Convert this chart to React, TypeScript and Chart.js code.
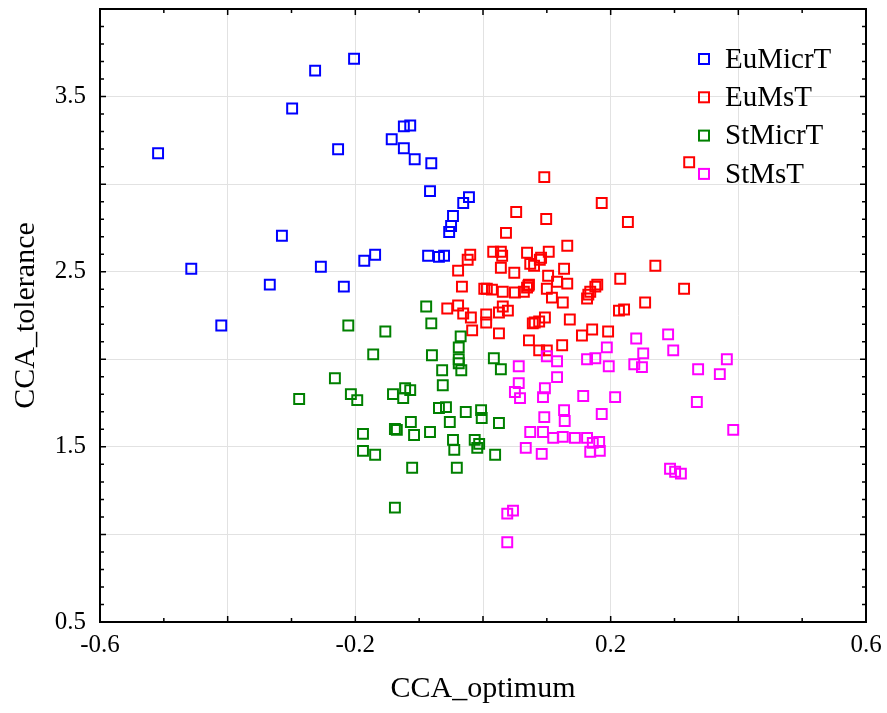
import React, { useEffect, useRef } from "react";
import { Chart, registerables } from "chart.js";

Chart.register(...registerables);

const seriesNames = ["EuMicrT", "EuMsT", "StMicrT", "StMsT"];
const seriesColors = ["#0000ff", "#ff0000", "#008000", "#ff00ff"];

const euMicrTX = [-0.509, -0.457, -0.41, -0.334, -0.315, -0.299, -0.263, -0.202, -0.227, -0.254, -0.218, -0.186, -0.169, -0.143, -0.124, -0.114, -0.124, -0.107, -0.081, -0.083, -0.031, -0.022, -0.047, -0.05, -0.053, -0.086, -0.069, -0.061];
const euMicrTY = [3.176, 2.517, 2.193, 2.426, 2.705, 3.432, 3.648, 3.716, 3.199, 2.528, 2.415, 2.563, 2.597, 3.256, 3.33, 3.335, 3.205, 3.142, 3.119, 2.96, 2.892, 2.926, 2.818, 2.761, 2.727, 2.591, 2.585, 2.591];

const euMsTX = [0.323, 0.096, 0.186, 0.052, 0.099, 0.227, 0.036, 0.132, 0.016, 0.028, 0.03, 0.069, 0.103, 0.091, 0.074, 0.08, 0.028, 0.049, 0.127, 0.27, 0.102, 0.116, 0.215, 0.132, 0.072, 0.002, 0.014, 0.031, 0.05, 0.064, 0.1, 0.176, 0.165, 0.163, 0.315, 0.108, 0.125, 0.254, 0.031, 0.039, 0.025, 0.005, 0.005, 0.213, 0.221, 0.097, 0.081, 0.078, 0.088, 0.136, 0.025, 0.171, 0.155, 0.196, 0.072, 0.088, 0.124, 0.1, -0.02, -0.024, 0.089, -0.039, -0.033, 0.006, -0.056, -0.039, -0.031, -0.019, -0.017, 0.071, 0.179, 0.168, 0.069];
const euMsTY = [3.125, 3.04, 2.892, 2.841, 2.801, 2.784, 2.722, 2.648, 2.614, 2.614, 2.591, 2.608, 2.614, 2.58, 2.545, 2.534, 2.523, 2.494, 2.517, 2.534, 2.477, 2.443, 2.46, 2.432, 2.426, 2.403, 2.398, 2.386, 2.381, 2.386, 2.403, 2.415, 2.369, 2.347, 2.403, 2.352, 2.324, 2.324, 2.301, 2.278, 2.267, 2.256, 2.21, 2.278, 2.284, 2.239, 2.21, 2.205, 2.216, 2.227, 2.148, 2.17, 2.136, 2.159, 2.108, 2.051, 2.08, 2.051, 2.597, 2.568, 2.568, 2.506, 2.415, 2.403, 2.29, 2.307, 2.261, 2.239, 2.165, 2.42, 2.426, 2.386, 2.409];

const stMicrTX = [-0.211, -0.153, -0.172, -0.232, -0.288, -0.207, -0.197, -0.141, -0.188, -0.188, -0.169, -0.138, -0.138, -0.089, -0.081, -0.035, -0.038, -0.08, -0.038, -0.038, -0.034, -0.064, 0.017, 0.028, -0.063, -0.122, -0.114, -0.125, -0.069, -0.058, -0.027, -0.003, -0.002, -0.052, 0.025, -0.113, -0.135, -0.108, -0.083, -0.047, -0.045, -0.013, -0.006, -0.009, 0.019, -0.111, -0.041];
const stMicrTY = [2.193, 2.159, 2.028, 1.892, 1.773, 1.801, 1.767, 1.801, 1.574, 1.477, 1.455, 1.602, 1.153, 2.301, 2.205, 2.131, 2.068, 2.023, 2.0, 1.977, 1.937, 1.937, 2.006, 1.943, 1.852, 1.835, 1.824, 1.778, 1.722, 1.727, 1.699, 1.71, 1.665, 1.642, 1.636, 1.642, 1.597, 1.568, 1.585, 1.54, 1.483, 1.54, 1.517, 1.494, 1.455, 1.381, 1.381];

const stMsTX = [0.056, 0.056, 0.05, 0.058, 0.1, 0.116, 0.116, 0.097, 0.094, 0.163, 0.176, 0.157, 0.127, 0.128, 0.096, 0.074, 0.094, 0.11, 0.125, 0.144, 0.163, 0.172, 0.168, 0.067, 0.092, 0.038, 0.047, 0.038, 0.24, 0.29, 0.298, 0.251, 0.237, 0.249, 0.194, 0.197, 0.337, 0.371, 0.382, 0.335, 0.392, 0.207, 0.186, 0.182, 0.183, 0.293, 0.301, 0.31];
const stMsTY = [1.96, 1.864, 1.813, 1.778, 2.017, 1.989, 1.898, 1.835, 1.784, 2.0, 2.006, 1.79, 1.71, 1.648, 1.67, 1.585, 1.585, 1.551, 1.557, 1.551, 1.551, 1.523, 1.472, 1.494, 1.46, 1.119, 1.136, 0.955, 2.119, 2.142, 2.051, 2.034, 1.972, 1.955, 2.068, 1.96, 1.943, 1.915, 2.0, 1.756, 1.597, 1.784, 1.688, 1.528, 1.477, 1.375, 1.358, 1.347];

const xTickLabels = ["-0.6", "-0.2", "0.2", "0.6"];
const yTickLabels = ["0.5", "1.5", "2.5", "3.5"];

const seriesX = [euMicrTX, euMsTX, stMicrTX, stMsTX];
const seriesY = [euMicrTY, euMsTY, stMicrTY, stMsTY];

const FONT = "'Liberation Serif', 'Times New Roman', serif";

const framePlugin = {
  id: "frameTicks",
  afterDraw(chart: any) {
    const { ctx, chartArea } = chart;
    const xs = chart.scales.x;
    const ys = chart.scales.y;
    const { left, right, top, bottom } = chartArea;
    ctx.save();
    ctx.strokeStyle = "#000";
    ctx.lineWidth = 1.5;
    ctx.beginPath();
    for (let i = -6; i <= 6; i++) {
      const v = i / 10;
      const px = xs.getPixelForValue(v);
      const len = i % 2 === 0 ? 6 : 4;
      ctx.moveTo(px, bottom);
      ctx.lineTo(px, bottom - len);
      ctx.moveTo(px, top);
      ctx.lineTo(px, top + len);
    }
    for (let i = 5; i <= 40; i++) {
      const v = i / 10;
      const py = ys.getPixelForValue(v);
      const len = i % 5 === 0 ? 6 : 4;
      ctx.moveTo(left, py);
      ctx.lineTo(left + len, py);
      ctx.moveTo(right, py);
      ctx.lineTo(right - len, py);
    }
    ctx.stroke();
    ctx.lineWidth = 2;
    ctx.strokeRect(left, top, right - left, bottom - top);

    // legend
    const lx = right - 162;
    const ly = top + 50;
    chart.data.datasets.forEach((ds: any, i: number) => {
      const cy = ly + i * 38.3;
      ctx.strokeStyle = ds.borderColor;
      ctx.lineWidth = 2;
      ctx.strokeRect(lx - 5, cy - 5, 10, 10);
      ctx.fillStyle = "#000";
      ctx.font = "29px " + FONT;
      ctx.textAlign = "left";
      ctx.textBaseline = "middle";
      ctx.fillText(ds.label, lx + 21, cy + 1);
    });
    ctx.restore();
  },
};

export default function App() {
  const ref = useRef<HTMLCanvasElement>(null);
  useEffect(() => {
    if (!ref.current) return;
    const datasets = seriesNames.map((name, i) => ({
      label: name,
      data: seriesX[i].map((x, j) => ({ x, y: seriesY[i][j] })),
      borderColor: seriesColors[i],
      backgroundColor: "rgba(0,0,0,0)",
      pointStyle: "rect",
      pointRadius: 7,
      pointBorderWidth: 2,
      pointHoverRadius: 7,
      order: 4 - i,
    }));
    const chart = new Chart(ref.current, {
      type: "scatter",
      data: { datasets },
      plugins: [framePlugin],
      options: {
        responsive: false,
        animation: false,
        layout: { padding: { top: 5, right: 21, left: 0, bottom: 0 } },
        plugins: { legend: { display: false }, tooltip: { enabled: false } },
        scales: {
          x: {
            type: "linear",
            min: -0.6,
            max: 0.6,
            afterFit: (s: any) => {
              s.height = 91;
              s.paddingLeft = 0;
              s.paddingRight = 0;
            },
            afterBuildTicks: (s: any) => {
              s.ticks = [-0.6, -0.4, -0.2, 0, 0.2, 0.4, 0.6].map((v) => ({ value: v }));
            },
            ticks: {
              autoSkip: false,
              maxRotation: 0,
              padding: 8,
              color: "#000",
              font: { family: FONT, size: 25 },
              callback: (v: any) => {
                const s = Number(v).toFixed(1);
                return xTickLabels.includes(s) ? s : "";
              },
            },
            grid: { color: "#e2e2e2", lineWidth: 1, drawTicks: false },
            border: { display: false },
            title: {
              display: true,
              text: "CCA_optimum",
              color: "#000",
              font: { family: FONT, size: 30 },
              padding: { top: 0, bottom: 6 },
            },
          },
          y: {
            type: "linear",
            min: 0.5,
            max: 4.0,
            afterFit: (s: any) => {
              s.width = 100;
              s.paddingTop = 0;
              s.paddingBottom = 0;
            },
            afterBuildTicks: (s: any) => {
              s.ticks = [0.5, 1, 1.5, 2, 2.5, 3, 3.5, 4].map((v) => ({ value: v }));
            },
            ticks: {
              autoSkip: false,
              padding: 14,
              color: "#000",
              font: { family: FONT, size: 25 },
              callback: (v: any) => {
                const s = Number(v).toFixed(1);
                return yTickLabels.includes(s) ? s : "";
              },
            },
            grid: { color: "#e2e2e2", lineWidth: 1, drawTicks: false },
            border: { display: false },
            title: {
              display: true,
              text: "CCA_tolerance",
              color: "#000",
              font: { family: FONT, size: 30 },
              padding: { top: 8, bottom: 0 },
            },
          },
        },
      },
    } as any);
    return () => chart.destroy();
  }, []);
  return (
    <div style={{ position: "absolute", left: 0, top: 0, width: 887, height: 713, background: "#fff" }}>
      <canvas ref={ref} width={887} height={713} />
    </div>
  );
}
